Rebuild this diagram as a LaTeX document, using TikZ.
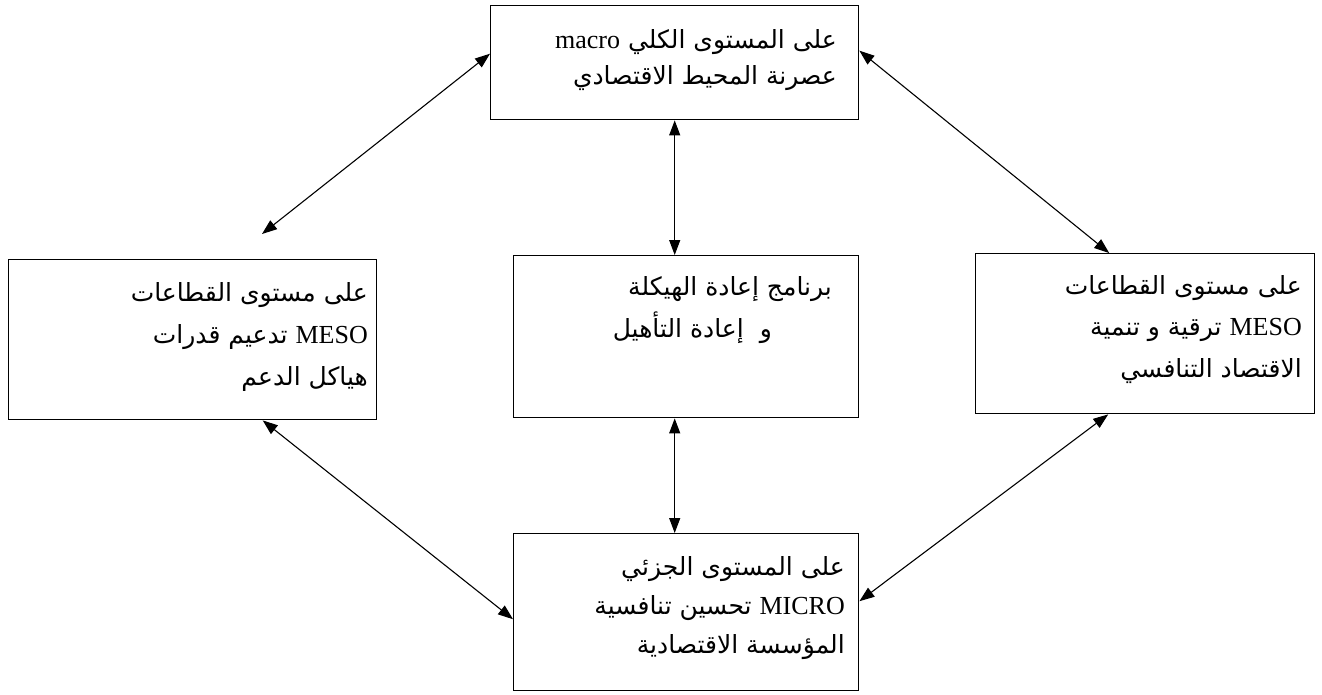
\documentclass[tikz,border=0pt]{standalone}
\usepackage{fontspec}
\setmainfont{Liberation Serif}
\newfontfamily\arabicfont[Script=Arabic]{DejaVu Sans}
\newfontfamily\latinfont{Liberation Serif}
\TeXXeTstate=1
\usetikzlibrary{arrows.meta,calc}
\newcommand{\arab}[1]{{\arabicfont\fontsize{25}{30}\selectfont\beginR #1\endR}}
\newcommand{\latn}[1]{{\latinfont\fontsize{26}{30}\selectfont\beginL #1\endL}}
\begin{document}
\begin{tikzpicture}[x=1pt,y=-1pt,
  box/.style={draw, line width=1.4pt, inner sep=0pt, anchor=north west},
  lbl/.style={inner sep=0pt, anchor=base east},
  arr/.style={line width=1.1pt, {Triangle[length=15pt,width=11pt]}-{Triangle[length=15pt,width=11pt]}}]
\useasboundingbox (0,0) rectangle (1322,694);
\fill[white] (0,0) rectangle (1322,694);
% boxes
\node[box, minimum width=368pt, minimum height=114pt] (top) at (490,5) {};
\node[box, minimum width=368pt, minimum height=160pt] (left) at (8,259) {};
\node[box, minimum width=345pt, minimum height=162pt] (center) at (513,255) {};
\node[box, minimum width=339pt, minimum height=160pt] (right) at (975,253) {};
\node[box, minimum width=345pt, minimum height=157pt] (bottom) at (513,533) {};
% texts
\node[lbl] (t1) at (837,48) {\arab{على المستوى الكلي \latn{macro}}};
\node[lbl] (t2) at (837,84) {\arab{عصرنة المحيط الاقتصادي}};
\node[lbl] (l1) at (368,301) {\arab{على مستوى القطاعات}};
\node[lbl] (l2) at (368,343) {\arab{\latn{MESO} تدعيم قدرات}};
\node[lbl] (l3) at (368,385) {\arab{هياكل الدعم}};
\node[lbl] (c1) at (832,295) {\arab{برنامج إعادة الهيكلة}};
\node[lbl] (c2) at (772,337) {\arab{و\ \ إعادة التأهيل}};
\node[lbl] (r1) at (1302,294) {\arab{على مستوى القطاعات}};
\node[lbl] (r2) at (1302,335) {\arab{\latn{MESO} ترقية و تنمية}};
\node[lbl] (r3) at (1302,377) {\arab{الاقتصاد التنافسي}};
\node[lbl] (b1) at (845,575) {\arab{على المستوى الجزئي}};
\node[lbl] (b2) at (845,614) {\arab{\latn{MICRO} تحسين تنافسية}};
\node[lbl] (b3) at (845,653) {\arab{المؤسسة الاقتصادية}};
% connectors
\coordinate (lfree) at (262,234);
\draw[arr] ($(top.west)+(0,-9)$) -- (lfree);
\draw[arr] ($(top.east)+(0,-12)$) -- ($(right.north)+(-36,0)$);
\draw[arr] (top.south) -- (top.south |- center.north);
\draw[arr] (center.south -| top.south) -- (bottom.north -| top.south);
\draw[arr] ($(left.south)+(70,0)$) -- ($(bottom.west)+(0,7)$);
\draw[arr] ($(right.south)+(-37,0)$) -- ($(bottom.east)+(0,-11)$);
\end{tikzpicture}
\end{document}
